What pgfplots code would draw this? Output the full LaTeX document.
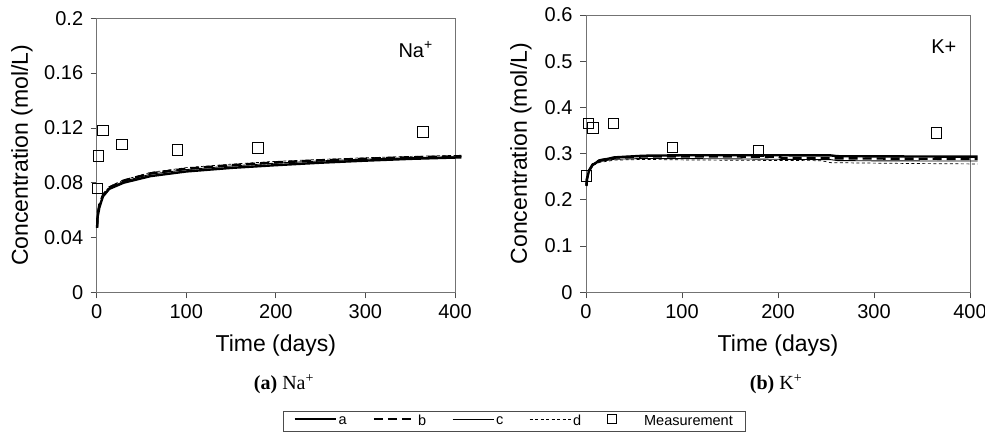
\documentclass[border=0pt]{standalone}
\usepackage{fontspec}
\setmainfont{Liberation Sans}
\newfontfamily\seriffont{Liberation Serif}
\usepackage{pgfplots}
\pgfplotsset{compat=1.18}

\pgfplotsset{
 panel/.style={
  scale only axis,
  xmin=0, xmax=400, xtick={0,100,200,300,400},
  ymin=0,
  tick align=outside, xtick pos=bottom, ytick pos=left, major tick length=6pt,
  axis line style={black!55, line width=0.8pt}, tick style={black!70, line width=0.8pt},
  ticklabel style={font=\fontsize{20}{22}\selectfont},
  /pgf/number format/assume math mode=true,
  scaled y ticks=false,
  yticklabel style={xshift=-4pt},
  xticklabel style={yshift=-3pt},
  label style={font=\fontsize{23}{25}\selectfont},
  xlabel={Time (days)}, ylabel={Concentration (mol/L)},
  clip=false,
 },
 ca/.style={black, line width=2.4pt},
 cb/.style={black, line width=2.4pt, dash pattern=on 9pt off 5pt},
 cc/.style={black, line width=0.9pt},
 cd/.style={black, line width=0.7pt, dash pattern=on 3pt off 2.5pt},
 meas/.style={only marks, mark=square, mark size=5.2pt, mark options={draw=black, line width=0.8pt, solid},
   legend image code/.code={\draw[##1, mark size=4.5pt] plot coordinates {(0pt,2pt)};}},
}

\begin{document}
\begin{tikzpicture}
\path[use as bounding box] (0,0) rectangle (985pt,432pt);

% ---------------- (a) Na+ ----------------
\begin{axis}[panel,
  at={(96.7pt,139.7pt)}, anchor=south west,
  width=358.3pt, height=274pt,
  ymax=0.2, ytick={0,0.04,0.08,0.12,0.16,0.2},
  yticklabels={0,0.04,0.08,0.12,0.16,0.2},
  xlabel style={at={(axis description cs:0.5,-0.196)}, anchor=center},
  ylabel style={at={(axis description cs:-0.2085,0.5)}, anchor=center},
  legend columns=5,
  legend style={at={(axis description cs:0.52,-0.433)}, anchor=north west,
    draw=black!70, line width=0.6pt, font=\fontsize{14.5}{16}\selectfont,
    inner xsep=10pt, inner ysep=2pt,
    /tikz/every even column/.append style={column sep=24pt}},
  legend image code/.code={\draw[#1] (0pt,2pt) -- (41pt,2pt);},
]
\addplot[ca] coordinates {(0.5,0.047)(1,0.055)(3,0.062)(7,0.070)(14,0.0755)(30,0.080)(60,0.0848)(100,0.0882)(150,0.0908)(200,0.0928)(250,0.0946)(300,0.0961)(350,0.0974)(407,0.0985)};
\addlegendentry{a}
\addplot[cb] coordinates {(0.5,0.048)(1,0.057)(3,0.064)(7,0.071)(14,0.0765)(30,0.0815)(60,0.0868)(100,0.0902)(150,0.0928)(200,0.0948)(250,0.0963)(300,0.0975)(350,0.0985)(407,0.0993)};
\addlegendentry{b}
\addplot[cc] coordinates {(0.5,0.048)(1,0.056)(3,0.063)(7,0.0705)(14,0.076)(30,0.081)(60,0.0862)(100,0.0896)(150,0.0922)(200,0.0943)(250,0.0959)(300,0.0972)(350,0.0983)(407,0.0990)};
\addlegendentry{c}
\addplot[cd] coordinates {(0.5,0.048)(1,0.057)(3,0.064)(7,0.0715)(14,0.077)(30,0.082)(60,0.0875)(100,0.0910)(150,0.0935)(200,0.0956)(250,0.0970)(300,0.0982)(350,0.0992)(407,0.1000)};
\addlegendentry{d}
\addplot[meas] coordinates {(1,0.0759)(2,0.0997)(7,0.118)(28,0.108)(90,0.104)(180,0.1053)(364,0.117)};
\addlegendentry{\hspace{26pt}Measurement}
\node[anchor=west, font=\fontsize{20}{22}\selectfont] at (axis cs:333,0.177) {Na\textsuperscript{+}};
\end{axis}

% ---------------- (b) K+ ----------------
\begin{axis}[panel,
  at={(586pt,139.7pt)}, anchor=south west,
  width=384pt, height=277.3pt,
  ymax=0.6, ytick={0,0.1,0.2,0.3,0.4,0.5,0.6},
  yticklabels={0,0.1,0.2,0.3,0.4,0.5,0.6},
  xlabel style={at={(axis description cs:0.5,-0.1937)}, anchor=center},
  ylabel style={at={(axis description cs:-0.1693,0.5)}, anchor=center},
]
\addplot[ca] coordinates {(0.5,0.230)(1,0.245)(3,0.262)(7,0.276)(14,0.285)(30,0.292)(60,0.2955)(100,0.2965)(150,0.2965)(200,0.2965)(255,0.2962)(262,0.2945)(300,0.2942)(350,0.2938)(408,0.2935)};
\addplot[cb] coordinates {(0.5,0.231)(1,0.246)(3,0.263)(7,0.277)(14,0.2855)(30,0.2915)(60,0.294)(100,0.294)(150,0.2938)(200,0.2935)(205,0.2905)(300,0.2895)(350,0.289)(408,0.2885)};
\addplot[cc] coordinates {(0.5,0.231)(1,0.246)(3,0.262)(7,0.275)(14,0.283)(30,0.288)(60,0.2895)(100,0.2893)(150,0.2888)(200,0.2878)(255,0.2870)(262,0.2850)(300,0.2845)(350,0.2842)(408,0.2840)};
\addplot[cd] coordinates {(0.5,0.231)(1,0.245)(3,0.261)(7,0.274)(14,0.281)(30,0.286)(60,0.2875)(100,0.2865)(150,0.2858)(200,0.2852)(245,0.2848)(255,0.2805)(300,0.2795)(350,0.2785)(408,0.2777)};
\addplot[meas] coordinates {(0.7,0.2517)(2.4,0.3657)(7,0.356)(28.5,0.366)(90,0.314)(179.5,0.306)(365,0.345)};
\node[anchor=west, font=\fontsize{20}{22}\selectfont] at (axis cs:356,0.532) {K+};
\end{axis}

% captions
\node[font=\fontsize{20}{22}\selectfont\seriffont] at (284pt,48pt) {\textbf{(a)} Na\textsuperscript{+}};
\node[font=\fontsize{20}{22}\selectfont\seriffont] at (776pt,48pt) {\textbf{(b)} K\textsuperscript{+}};
\end{tikzpicture}
\end{document}
